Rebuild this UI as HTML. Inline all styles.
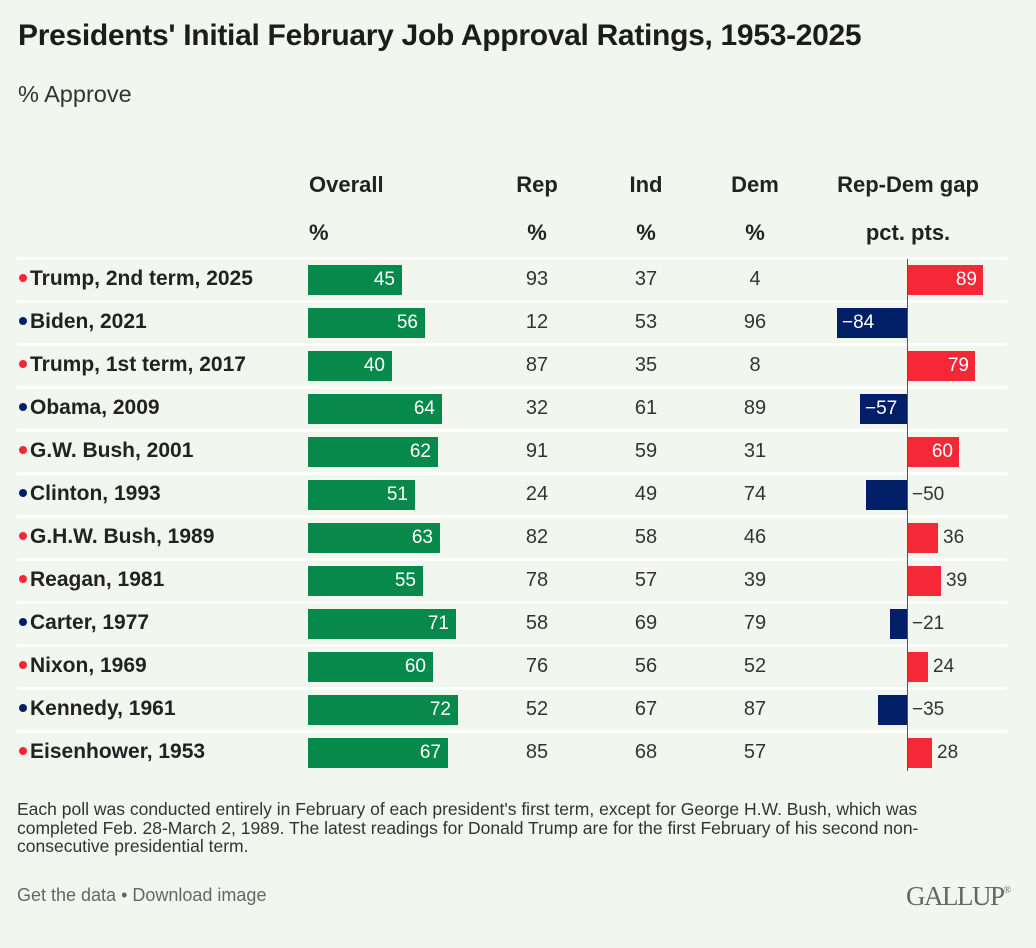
<!DOCTYPE html>
<html><head><meta charset="utf-8"><style>
body{margin:0;width:1036px;height:948px;background:#f1f7ef;font-family:"Liberation Sans",sans-serif;position:relative;overflow:hidden;color:#222}
div{position:absolute}
.t{left:18px;top:19px;font-size:30px;font-weight:bold;color:#1c1c1c;letter-spacing:-0.3px}
.s{left:18px;top:81px;font-size:23.5px;color:#333}
.h{font-size:22px;font-weight:bold;color:#222;transform:translateX(-50%);white-space:nowrap}
.sep{left:17px;width:990px;height:3px;background:#fff}
.lab{left:19px;font-size:21px;font-weight:bold;color:#222;white-space:nowrap}
.dot{display:inline-block;width:8px;height:8px;border-radius:50%;margin-right:3px;vertical-align:3px}
.r{background:#f42837}.b{background:#001f66}
.bar{height:30px;background:#06894b;color:#fff;font-size:19px;line-height:30px;text-align:right;box-sizing:border-box;padding-right:7px}
.v{font-size:20px;color:#333;transform:translateX(-50%)}
.g{height:30px;color:#fff;font-size:19px;line-height:30px;box-sizing:border-box}
.gp{background:#f42837;left:908px;text-align:right;padding-right:6px}
.gn{background:#001f66;text-align:left;padding-left:5px}
.o{font-size:19px;color:#333}
</style></head><body>
<div class="t">Presidents' Initial February Job Approval Ratings, 1953-2025</div>
<div class="s">% Approve</div>
<div class="h" style="left:309px;top:172px;transform:none">Overall</div>
<div class="h" style="left:537px;top:172px">Rep</div>
<div class="h" style="left:646px;top:172px">Ind</div>
<div class="h" style="left:755px;top:172px">Dem</div>
<div class="h" style="left:908px;top:172px">Rep-Dem gap</div>
<div class="h" style="left:309px;top:220px;transform:none">%</div>
<div class="h" style="left:537px;top:220px">%</div>
<div class="h" style="left:646px;top:220px">%</div>
<div class="h" style="left:755px;top:220px">%</div>
<div class="h" style="left:908px;top:220px">pct. pts.</div>

<div class="sep" style="top:257px"></div>
<div class="lab" style="top:267px"><span class="dot r"></span>Trump, 2nd term, 2025</div>
<div class="bar" style="left:308px;top:265px;width:94px">45</div>
<div class="v" style="left:537px;top:268px">93</div><div class="v" style="left:646px;top:268px">37</div><div class="v" style="left:755px;top:268px">4</div>
<div class="g gp" style="top:265px;width:75px">89</div>

<div class="sep" style="top:300px"></div>
<div class="lab" style="top:310px"><span class="dot b"></span>Biden, 2021</div>
<div class="bar" style="left:308px;top:308px;width:117px">56</div>
<div class="v" style="left:537px;top:311px">12</div><div class="v" style="left:646px;top:311px">53</div><div class="v" style="left:755px;top:311px">96</div>
<div class="g gn" style="top:308px;left:837px;width:71px">−84</div>

<div class="sep" style="top:343px"></div>
<div class="lab" style="top:353px"><span class="dot r"></span>Trump, 1st term, 2017</div>
<div class="bar" style="left:308px;top:351px;width:84px">40</div>
<div class="v" style="left:537px;top:354px">87</div><div class="v" style="left:646px;top:354px">35</div><div class="v" style="left:755px;top:354px">8</div>
<div class="g gp" style="top:351px;width:67px">79</div>

<div class="sep" style="top:386px"></div>
<div class="lab" style="top:396px"><span class="dot b"></span>Obama, 2009</div>
<div class="bar" style="left:308px;top:394px;width:134px">64</div>
<div class="v" style="left:537px;top:397px">32</div><div class="v" style="left:646px;top:397px">61</div><div class="v" style="left:755px;top:397px">89</div>
<div class="g gn" style="top:394px;left:860px;width:48px">−57</div>

<div class="sep" style="top:429px"></div>
<div class="lab" style="top:439px"><span class="dot r"></span>G.W. Bush, 2001</div>
<div class="bar" style="left:308px;top:437px;width:130px">62</div>
<div class="v" style="left:537px;top:440px">91</div><div class="v" style="left:646px;top:440px">59</div><div class="v" style="left:755px;top:440px">31</div>
<div class="g gp" style="top:437px;width:51px">60</div>

<div class="sep" style="top:472px"></div>
<div class="lab" style="top:482px"><span class="dot b"></span>Clinton, 1993</div>
<div class="bar" style="left:308px;top:480px;width:107px">51</div>
<div class="v" style="left:537px;top:483px">24</div><div class="v" style="left:646px;top:483px">49</div><div class="v" style="left:755px;top:483px">74</div>
<div class="g gn" style="top:480px;left:866px;width:42px"></div><div class="o" style="left:912px;top:484px">−50</div>

<div class="sep" style="top:515px"></div>
<div class="lab" style="top:525px"><span class="dot r"></span>G.H.W. Bush, 1989</div>
<div class="bar" style="left:308px;top:523px;width:132px">63</div>
<div class="v" style="left:537px;top:526px">82</div><div class="v" style="left:646px;top:526px">58</div><div class="v" style="left:755px;top:526px">46</div>
<div class="g gp" style="top:523px;width:30px"></div><div class="o" style="left:943px;top:527px">36</div>

<div class="sep" style="top:558px"></div>
<div class="lab" style="top:568px"><span class="dot r"></span>Reagan, 1981</div>
<div class="bar" style="left:308px;top:566px;width:115px">55</div>
<div class="v" style="left:537px;top:569px">78</div><div class="v" style="left:646px;top:569px">57</div><div class="v" style="left:755px;top:569px">39</div>
<div class="g gp" style="top:566px;width:33px"></div><div class="o" style="left:946px;top:570px">39</div>

<div class="sep" style="top:601px"></div>
<div class="lab" style="top:611px"><span class="dot b"></span>Carter, 1977</div>
<div class="bar" style="left:308px;top:609px;width:148px">71</div>
<div class="v" style="left:537px;top:612px">58</div><div class="v" style="left:646px;top:612px">69</div><div class="v" style="left:755px;top:612px">79</div>
<div class="g gn" style="top:609px;left:890px;width:18px"></div><div class="o" style="left:912px;top:613px">−21</div>

<div class="sep" style="top:644px"></div>
<div class="lab" style="top:654px"><span class="dot r"></span>Nixon, 1969</div>
<div class="bar" style="left:308px;top:652px;width:125px">60</div>
<div class="v" style="left:537px;top:655px">76</div><div class="v" style="left:646px;top:655px">56</div><div class="v" style="left:755px;top:655px">52</div>
<div class="g gp" style="top:652px;width:20px"></div><div class="o" style="left:933px;top:656px">24</div>

<div class="sep" style="top:687px"></div>
<div class="lab" style="top:697px"><span class="dot b"></span>Kennedy, 1961</div>
<div class="bar" style="left:308px;top:695px;width:150px">72</div>
<div class="v" style="left:537px;top:698px">52</div><div class="v" style="left:646px;top:698px">67</div><div class="v" style="left:755px;top:698px">87</div>
<div class="g gn" style="top:695px;left:878px;width:30px"></div><div class="o" style="left:912px;top:699px">−35</div>

<div class="sep" style="top:730px"></div>
<div class="lab" style="top:740px"><span class="dot r"></span>Eisenhower, 1953</div>
<div class="bar" style="left:308px;top:738px;width:140px">67</div>
<div class="v" style="left:537px;top:741px">85</div><div class="v" style="left:646px;top:741px">68</div><div class="v" style="left:755px;top:741px">57</div>
<div class="g gp" style="top:738px;width:24px"></div><div class="o" style="left:937px;top:742px">28</div>

<div style="left:907px;top:259px;width:1px;height:512px;background:#555"></div>

<div style="left:17px;top:800px;width:1000px;font-size:17.5px;line-height:18.5px;color:#333">Each poll was conducted entirely in February of each president's first term, except for George H.W. Bush, which was<br>completed Feb. 28-March 2, 1989. The latest readings for Donald Trump are for the first February of his second non-<br>consecutive presidential term.</div>
<div style="left:17px;top:885px;font-size:18px;color:#666">Get the data • Download image</div>
<div style="left:906px;top:881px;font-family:'Liberation Serif',serif;font-size:27px;color:#666;letter-spacing:-1.5px">GALLUP<span style="font-size:10px;vertical-align:12px">®</span></div>
</body></html>
